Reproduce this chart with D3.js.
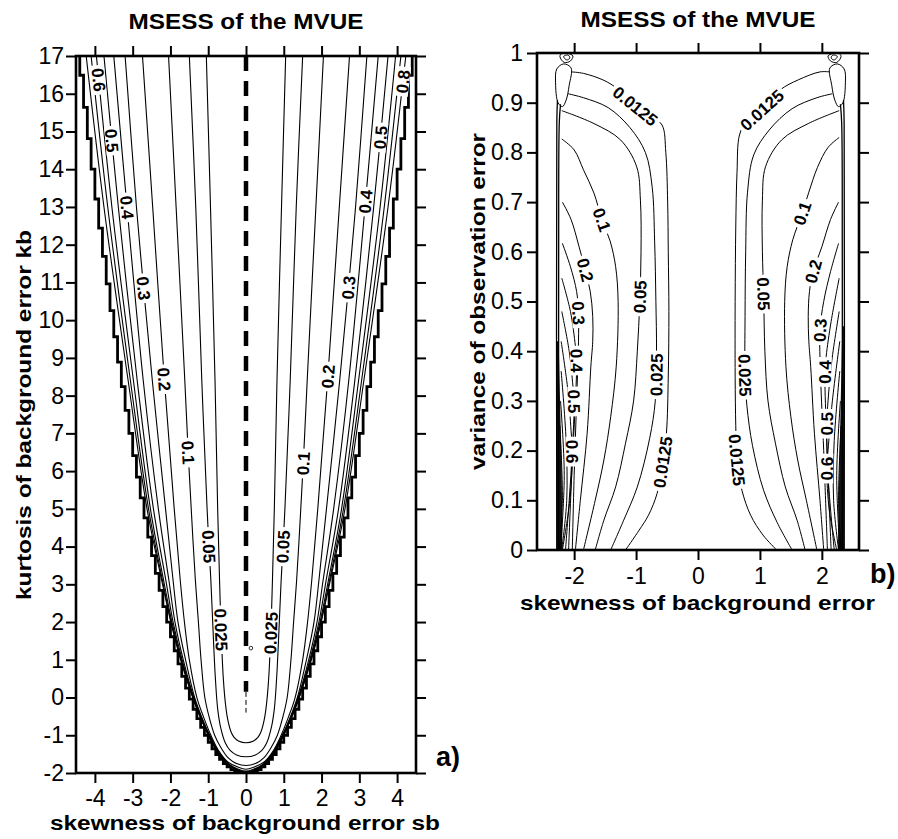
<!DOCTYPE html>
<html><head><meta charset="utf-8">
<script src="https://cdn.jsdelivr.net/npm/d3@7"></script>
<style>
body{margin:0;background:#fff}
svg{display:block}
text{font-family:"Liberation Sans",Arial,Helvetica,sans-serif;fill:#000}
</style>
</head><body>
<svg id="chart" width="898" height="839"></svg>
<script>
// ---------------- DATA ----------------
// Panel a) axis ticks
const aXTicks = [-4,-3,-2,-1,0,1,2,3,4];
const aYTicks = [-2,-1,0,1,2,3,4,5,6,7,8,9,10,11,12,13,14,15,16,17];
// Panel b) axis ticks
const bXTicks = [-2,-1,0,1,2];
const bYTicks = [0,0.1,0.2,0.3,0.4,0.5,0.6,0.7,0.8,0.9,1];
const bYTickLabels = ["0","0.1","0.2","0.3","0.4","0.5","0.6","0.7","0.8","0.9","1"];

// Panel a) feasibility boundary (skewness sb, kurtosis kb)
const aBoundSb = [0,0.1,0.2,0.3,0.4,0.5,0.6,0.7,0.8,0.9,1,1.1,1.2,1.3,1.4,1.5,1.6,1.7,1.8,1.9,2,2.1,2.2,2.3,2.4,2.5,2.6,2.7,2.8,2.9,3,3.1,3.2,3.3,3.4,3.5,3.6,3.7,3.8,3.9,4,4.1,4.2,4.3,4.4];
const aBoundKb = [-2,-1.99,-1.96,-1.91,-1.84,-1.75,-1.64,-1.51,-1.36,-1.19,-1,-0.79,-0.56,-0.31,-0.04,0.25,0.56,0.89,1.24,1.61,2,2.41,2.84,3.29,3.76,4.25,4.76,5.29,5.84,6.41,7,7.61,8.24,8.89,9.56,10.25,10.96,11.69,12.44,13.21,14,14.81,15.64,16.49,17.36];

// Panel a) contour levels, each as [kb, |sb|] half-curve (symmetric about sb = 0)
const aLevels = [0.025,0.05,0.1,0.2,0.3,0.4,0.5,0.6,0.7,0.8];
const a0025 = [[-1.2,0],[-1.15,0.2],[-1.05,0.32],[-0.9,0.4],[-0.6,0.48],[-0.2,0.54],[0.5,0.6],[1.8,0.66],[3.1,0.7],[5,0.75],[8.4,0.82],[13,0.94],[17,1.05]];
const a005  = [[-1.57,0],[-1.52,0.25],[-1.4,0.42],[-1.2,0.55],[-0.8,0.67],[-0.3,0.75],[0.5,0.81],[1.5,0.86],[3.1,0.93],[4,0.98],[5,1.03],[8.4,1.17],[13,1.33],[17,1.5]];
const a01   = [[-1.8,0],[-1.75,0.25],[-1.6,0.47],[-1.3,0.68],[-1,0.83],[-0.5,0.98],[0,1.09],[1,1.19],[2,1.26],[3.1,1.34],[5,1.45],[6.5,1.53],[8.4,1.62],[13,1.85],[17,2.05]];
const a02   = [[-1.9,0],[-1.85,0.2],[-1.7,0.49],[-1.4,0.73],[-1,0.93],[-0.5,1.13],[0,1.3],[1,1.5],[2,1.63],[3.1,1.74],[5,1.9],[8.4,2.16],[13,2.47],[17,2.74]];
const a03   = [[-1.95,0],[-1.9,0.2],[-1.75,0.47],[-1.45,0.72],[-1,0.96],[-0.5,1.18],[0,1.36],[1,1.6],[2,1.8],[3.1,1.93],[5,2.13],[8.4,2.48],[10.85,2.71],[13,2.9],[17,3.2]];
const a04   = [[-1.97,0],[-1.9,0.25],[-1.75,0.49],[-1.45,0.73],[-1,0.97],[-0.5,1.19],[0,1.38],[1,1.66],[2,1.88],[3.1,2.04],[5,2.32],[8.4,2.72],[13,3.15],[17,3.5]];
const a05   = [[-1.98,0],[-1.9,0.27],[-1.75,0.49],[-1.45,0.74],[-1,0.98],[-0.5,1.2],[0,1.39],[1,1.69],[2,1.93],[3.1,2.12],[5,2.45],[8.4,2.88],[13,3.38],[17,3.76]];
const a06   = [[-1.99,0],[-1.9,0.28],[-1.75,0.495],[-1.45,0.745],[-1,0.99],[-0.5,1.21],[0,1.4],[1,1.71],[2,1.96],[3.1,2.18],[5,2.53],[8.4,2.98],[13,3.55],[17,3.96]];
const a07   = [[-1.995,0],[-1.9,0.29],[-1.75,0.497],[-1.45,0.75],[-1,0.995],[-0.5,1.215],[0,1.405],[1,1.72],[2,1.98],[3.1,2.21],[5,2.58],[8.4,3.06],[13,3.66],[17,4.1]];
const a08   = [[-2,0],[-1.9,0.3],[-1.75,0.5],[-1.45,0.755],[-1,1.0],[-0.5,1.22],[0,1.41],[1,1.73],[2,1.99],[3.1,2.23],[5,2.62],[8.4,3.12],[13,3.76],[17,4.23]];
const aCurves = [a0025,a005,a01,a02,a03,a04,a05,a06,a07,a08];
// dashed zero line [sb, kb]
const aZeroThick = [[0,17],[0,0.15]];
const aZeroThin  = [[0,0.15],[0,-0.4]];
const aTinyLoop  = [0.13,1.31];
// contour labels [level, sb, kb]
const aLabels = [[0.6,-3.94,16.36],[0.5,-3.54,14.77],[0.4,-3.14,13.0],[0.3,-2.72,10.85],[0.2,-2.19,8.42],[0.1,-1.53,6.48],[0.05,-1.0,3.99],[0.025,-0.65,1.79],
                 [0.5,3.65,14.83],[0.4,3.25,13.14],[0.3,2.81,10.85],[0.2,2.28,8.5],[0.1,1.57,6.21],[0.05,1.09,4.0],[0.025,0.72,1.7],[0.8,4.3,16.3]];

// Panel b) contours, [sb, variance]
const bLevels = [0.0125,0.025,0.05,0.1,0.2,0.3,0.4,0.5,0.6,0.7,0.8,0.9];
const bL0125 = [[-2.05,0.962],[-1.85,0.959],[-1.52,0.945],[-1.3,0.928],[-1.01,0.893],[-0.75,0.872],[-0.58,0.855],[-0.52,0.8],[-0.49,0.7],[-0.48,0.6],[-0.47,0.48],[-0.48,0.35],[-0.51,0.235],[-0.57,0.175],[-0.66,0.114],[-0.8,0.07],[-0.95,0.04],[-1.17,0]];
const bL025  = [[-2.1,0.918],[-1.85,0.91],[-1.45,0.89],[-1.1,0.85],[-0.85,0.8],[-0.74,0.73],[-0.7,0.62],[-0.68,0.5],[-0.67,0.4],[-0.69,0.3],[-0.78,0.225],[-0.98,0.127],[-1.2,0.06],[-1.41,0]];
const bL05   = [[-2.2,0.884],[-1.68,0.858],[-1.25,0.825],[-0.99,0.771],[-0.93,0.704],[-0.92,0.6],[-0.94,0.5],[-0.98,0.4],[-1.04,0.3],[-1.17,0.215],[-1.33,0.127],[-1.52,0.06],[-1.66,0]];
const bL1    = [[-2.2,0.827],[-2.0,0.805],[-1.85,0.765],[-1.68,0.718],[-1.55,0.664],[-1.42,0.622],[-1.33,0.57],[-1.29,0.5],[-1.32,0.37],[-1.41,0.268],[-1.52,0.181],[-1.66,0.1],[-1.85,0]];
const bL2    = [[-2.19,0.7],[-2.05,0.665],[-1.92,0.61],[-1.82,0.563],[-1.74,0.52],[-1.7,0.47],[-1.7,0.42],[-1.73,0.37],[-1.79,0.235],[-1.9,0.1],[-1.98,0]];
const bL3    = [[-2.19,0.617],[-2.06,0.57],[-1.96,0.52],[-1.93,0.476],[-1.93,0.42],[-1.96,0.3],[-2.0,0.15],[-2.03,0]];
const bL4    = [[-2.2,0.547],[-2.06,0.48],[-1.98,0.41],[-1.96,0.38],[-1.98,0.3],[-2.04,0.15],[-2.09,0]];
const bL5    = [[-2.2,0.48],[-2.08,0.4],[-2.02,0.33],[-2.0,0.298],[-2.03,0.2],[-2.08,0.1],[-2.14,0]];
const bL6    = [[-2.21,0.42],[-2.1,0.32],[-2.05,0.24],[-2.03,0.198],[-2.07,0.1],[-2.19,0]];
const bL7    = [[-2.21,0.36],[-2.13,0.22],[-2.12,0.1],[-2.2,0]];
const bL8    = [[-2.22,0.3],[-2.16,0.15],[-2.22,0]];
const bL9    = [[-2.23,0.25],[-2.19,0.1],[-2.24,0]];
const bR0125 = [[2.13,0.962],[1.97,0.962],[1.62,0.946],[1.33,0.926],[1.03,0.885],[0.78,0.862],[0.67,0.835],[0.63,0.76],[0.61,0.65],[0.6,0.5],[0.6,0.35],[0.61,0.25],[0.63,0.181],[0.71,0.12],[0.85,0.07],[1.05,0.03],[1.27,0]];
const bR025  = [[2.17,0.918],[1.92,0.91],[1.52,0.888],[1.15,0.845],[0.9,0.795],[0.8,0.72],[0.77,0.6],[0.76,0.47],[0.76,0.352],[0.79,0.29],[0.88,0.21],[1.06,0.12],[1.28,0.055],[1.52,0]];
const bR05   = [[2.28,0.884],[1.78,0.858],[1.35,0.825],[1.09,0.771],[1.04,0.704],[1.04,0.6],[1.06,0.516],[1.08,0.4],[1.13,0.3],[1.25,0.215],[1.41,0.127],[1.6,0.06],[1.73,0]];
const bR1    = [[2.28,0.83],[2.1,0.81],[1.93,0.77],[1.79,0.72],[1.68,0.677],[1.53,0.624],[1.44,0.57],[1.4,0.5],[1.42,0.369],[1.5,0.268],[1.61,0.181],[1.75,0.1],[1.92,0]];
const bR2    = [[2.27,0.7],[2.14,0.665],[2.0,0.61],[1.86,0.56],[1.8,0.52],[1.78,0.47],[1.79,0.42],[1.82,0.369],[1.88,0.235],[1.97,0.1],[2.03,0]];
const bR3    = [[2.27,0.617],[2.14,0.56],[2.03,0.5],[1.97,0.443],[1.98,0.35],[2.03,0.2],[2.09,0]];
const bR4    = [[2.28,0.547],[2.15,0.46],[2.07,0.39],[2.05,0.359],[2.07,0.25],[2.11,0.12],[2.15,0]];
const bR5    = [[2.28,0.48],[2.16,0.38],[2.1,0.3],[2.08,0.255],[2.1,0.15],[2.2,0]];
const bR6    = [[2.29,0.42],[2.17,0.3],[2.1,0.2],[2.08,0.164],[2.12,0.08],[2.24,0]];
const bR7    = [[2.29,0.36],[2.2,0.22],[2.19,0.1],[2.27,0]];
const bR8    = [[2.3,0.3],[2.24,0.15],[2.29,0]];
const bR9    = [[2.31,0.25],[2.27,0.1],[2.31,0]];
const bLeftCurves  = [bL0125,bL025,bL05,bL1,bL2,bL3,bL4,bL5,bL6,bL7,bL8,bL9];
const bRightCurves = [bR0125,bR025,bR05,bR1,bR2,bR3,bR4,bR5,bR6,bR7,bR8,bR9];
// edge lines, dark bands and small closed loops near the corners
const bLEdge  = [[-2.22,0.897],[-2.24,0.86],[-2.25,0.6],[-2.25,0]];
const bLEdge2 = [[-2.27,0.905],[-2.28,0.86],[-2.28,0]];
const bREdge  = [[2.3,0.897],[2.32,0.86],[2.33,0.6],[2.33,0]];
const bREdge2 = [[2.35,0.905],[2.36,0.86],[2.36,0]];
const bLBand  = [[-2.285,0],[-2.285,0.42],[-2.25,0.42],[-2.2,0.15],[-2.19,0]];
const bRBand  = [[2.365,0],[2.365,0.45],[2.33,0.45],[2.28,0.15],[2.26,0]];
const bLTear  = [[-2.3,0.94],[-2.28,0.968],[-2.17,0.978],[-2.05,0.97],[-2.08,0.935],[-2.13,0.905],[-2.19,0.892],[-2.26,0.9]];
const bRTear  = [[2.38,0.94],[2.36,0.968],[2.25,0.978],[2.13,0.97],[2.16,0.935],[2.21,0.905],[2.27,0.892],[2.34,0.9]];
const bLLoop1 = [[-2.23,0.993],[-2.16,0.981],[-2.06,0.984],[-2.02,0.994],[-2.1,0.999],[-2.2,0.999]];
const bLLoop2 = [[-2.17,0.993],[-2.12,0.986],[-2.07,0.99],[-2.1,0.996]];
const bRLoop1 = [[2.31,0.993],[2.24,0.981],[2.14,0.984],[2.1,0.994],[2.18,0.999],[2.28,0.999]];
const bRLoop2 = [[2.25,0.993],[2.2,0.986],[2.15,0.99],[2.18,0.996]];
// contour labels [level, sb, variance]
const bLabels = [[0.0125,-1.01,0.893],[0.1,-1.55,0.664],[0.2,-1.82,0.563],[0.3,-1.93,0.476],[0.4,-1.96,0.382],[0.5,-2.0,0.298],[0.6,-2.03,0.198],[0.05,-0.93,0.51],[0.025,-0.68,0.352],[0.0125,-0.6,0.178],
                 [0.0125,1.03,0.885],[0.1,1.68,0.677],[0.2,1.86,0.56],[0.3,1.97,0.443],[0.4,2.05,0.359],[0.5,2.08,0.255],[0.6,2.08,0.164],[0.05,1.06,0.516],[0.025,0.76,0.352],[0.0125,0.63,0.181]];

// ---------------- DRAWING ----------------
const svg = d3.select("#chart");
svg.append("rect").attr("width",898).attr("height",839).attr("fill","#fff");

const xa = d3.scaleLinear().domain([-4.5,4.5]).range([76,416]);
const ya = d3.scaleLinear().domain([-2,17]).range([773,56]);
const xb = d3.scaleLinear().domain([-2.6,2.6]).range([537,859]);
const yb = d3.scaleLinear().domain([0,1]).range([550,53]);

const defs = svg.append("defs");
defs.append("clipPath").attr("id","clipA").append("rect")
  .attr("x",xa(-4.5)).attr("y",ya(17)).attr("width",xa(4.5)-xa(-4.5)).attr("height",ya(-2)-ya(17));
defs.append("clipPath").attr("id","clipB").append("rect")
  .attr("x",xb(-2.6)).attr("y",yb(1)).attr("width",xb(2.6)-xb(-2.6)).attr("height",yb(0)-yb(1));

// ---- Panel a ----
const gA = svg.append("g");
const gAc = gA.append("g").attr("clip-path","url(#clipA)");
const lineA = d3.line().x(d=>xa(d[0])).y(d=>ya(d[1])).curve(d3.curveCatmullRom.alpha(0.5));
const aPaths = [];
aCurves.forEach((c,i)=>{
  const left = c.slice().reverse().map(([k,s])=>[-s,k]);
  const right = c.slice(1).map(([k,s])=>[s,k]);
  const p = gAc.append("path").attr("d",lineA(left.concat(right)))
    .attr("fill","none").attr("stroke","#000").attr("stroke-width",1.1);
  aPaths.push({level:aLevels[i], node:p.node()});
});
// boundary (staircase)
const bLeftPts = aBoundSb.map((s,i)=>[-s,aBoundKb[i]]).reverse();
const bRightPts = aBoundSb.map((s,i)=>[s,aBoundKb[i]]);
const lineLin = (xs,ys,curve)=>d3.line().x(d=>xs(d[0])).y(d=>ys(d[1])).curve(curve);
gAc.append("path").attr("d",lineLin(xa,ya,d3.curveStepBefore)(bLeftPts))
  .attr("fill","none").attr("stroke","#000").attr("stroke-width",2.8);
gAc.append("path").attr("d",lineLin(xa,ya,d3.curveStepAfter)(bRightPts))
  .attr("fill","none").attr("stroke","#000").attr("stroke-width",2.8);
// zero dashed line
gAc.append("path").attr("d",lineLin(xa,ya,d3.curveLinear)(aZeroThick))
  .attr("stroke","#000").attr("stroke-width",4.5).attr("stroke-dasharray","15,10").attr("fill","none");
gAc.append("path").attr("d",lineLin(xa,ya,d3.curveLinear)(aZeroThin))
  .attr("stroke","#000").attr("stroke-width",1).attr("stroke-dasharray","5,3").attr("fill","none");
gAc.append("circle").attr("cx",xa(aTinyLoop[0])).attr("cy",ya(aTinyLoop[1])).attr("r",1.8)
  .attr("fill","none").attr("stroke","#000").attr("stroke-width",0.8);

// ---- Panel b ----
const gB = svg.append("g");
const gBc = gB.append("g").attr("clip-path","url(#clipB)");
const lineB = d3.line().x(d=>xb(d[0])).y(d=>yb(d[1])).curve(d3.curveCatmullRom.alpha(0.5));
const lineBClosed = d3.line().x(d=>xb(d[0])).y(d=>yb(d[1])).curve(d3.curveCatmullRomClosed.alpha(0.5));
[bLBand,bRBand].forEach(b=>{
  gBc.append("path").attr("d",d3.line().x(d=>xb(d[0])).y(d=>yb(d[1]))(b)+"Z").attr("fill","#111").attr("stroke","none");
});
const bPaths = [];
[bLeftCurves,bRightCurves].forEach(set=>{
  set.forEach((c,i)=>{
    const p = gBc.append("path").attr("d",lineB(c)).attr("fill","none").attr("stroke","#000").attr("stroke-width",1);
    bPaths.push({level:bLevels[i], node:p.node()});
  });
});
[bLEdge,bLEdge2,bREdge,bREdge2].forEach(c=>{
  gBc.append("path").attr("d",lineB(c)).attr("fill","none").attr("stroke","#000").attr("stroke-width",1.3);
});
[bLTear,bRTear,bLLoop1,bLLoop2,bRLoop1,bRLoop2].forEach(c=>{
  gBc.append("path").attr("d",lineBClosed(c)).attr("fill","none").attr("stroke","#000").attr("stroke-width",1);
});

// ---- contour labels ----
function fmtLevel(v){ return String(v); }
function placeLabels(g, paths, labels, xs, ys){
  labels.forEach(([lev,dx,dy])=>{
    const px = xs(dx), py = ys(dy);
    let best = null;
    paths.filter(p=>p.level===lev).forEach(p=>{
      const n = p.node, L = n.getTotalLength();
      for(let s=0;s<=L;s+=1){
        const q = n.getPointAtLength(s);
        const d = (q.x-px)*(q.x-px)+(q.y-py)*(q.y-py);
        if(!best || d<best.d) best = {d,s,n,L};
      }
    });
    if(!best) return;
    const c = best.n.getPointAtLength(best.s);
    const a = best.n.getPointAtLength(Math.max(0,best.s-4));
    const b = best.n.getPointAtLength(Math.min(best.L,best.s+4));
    let ang = Math.atan2(b.y-a.y,b.x-a.x)*180/Math.PI;
    if(ang>90) ang-=180;
    if(ang<=-90) ang+=180;
    const lg = g.append("g").attr("transform",`translate(${c.x},${c.y}) rotate(${ang})`);
    const r = lg.append("rect").attr("fill","#fff");
    const t = lg.append("text").text(fmtLevel(lev)).attr("text-anchor","middle").attr("dy","0.36em")
      .style("font-size","17px").attr("font-weight","bold");
    const w = t.node().getComputedTextLength();
    r.attr("x",-w/2-3).attr("y",-6.5).attr("width",w+6).attr("height",13);
  });
}
placeLabels(gA.append("g").attr("clip-path","url(#clipA)"), aPaths, aLabels, xa, ya);
placeLabels(gB.append("g").attr("clip-path","url(#clipB)"), bPaths, bLabels, xb, yb);

// ---- axes ----
function styleAxis(sel){
  sel.select(".domain").remove();
  sel.attr("font-size",null).attr("font-family",null);
  sel.selectAll(".tick line").attr("stroke","#000").attr("stroke-width",2);
  sel.selectAll(".tick text").style("font-size","23px").attr("fill","#000")
    .style("font-family","'Liberation Sans',Arial,sans-serif");
}
function frame(g,xs,ys,xt,yt,yfmt,padY,padX){
  const [x0,x1] = xs.range(), [y0,y1] = ys.range();
  g.append("g").attr("transform",`translate(${x0},0)`)
    .call(d3.axisLeft(ys).tickValues(yt).tickSize(10).tickSizeOuter(0).tickPadding(padY).tickFormat(yfmt)).call(styleAxis);
  g.append("g").attr("transform",`translate(${x1},0)`)
    .call(d3.axisRight(ys).tickValues(yt).tickSize(10).tickSizeOuter(0).tickFormat("")).call(styleAxis);
  g.append("g").attr("transform",`translate(0,${y0})`)
    .call(d3.axisBottom(xs).tickValues(xt).tickSize(10).tickSizeOuter(0).tickPadding(padX).tickFormat(d=>String(d))).call(styleAxis);
  g.append("g").attr("transform",`translate(0,${y1})`)
    .call(d3.axisTop(xs).tickValues(xt).tickSize(10).tickSizeOuter(0).tickFormat("")).call(styleAxis);
  g.append("rect").attr("x",x0).attr("y",y1).attr("width",x1-x0).attr("height",y0-y1)
    .attr("fill","none").attr("stroke","#000").attr("stroke-width",2.6);
}
frame(gA,xa,ya,aXTicks,aYTicks,d=>String(d),2,7);
frame(gB,xb,yb,bXTicks,bYTicks,(d,i)=>bYTickLabels[i],4,8);

// ---- titles ----
function txt(x,y,s,size,len,rot){
  const t = svg.append("text").attr("x",x).attr("y",y).text(s)
    .style("font-size",size+"px").attr("font-weight","bold").attr("text-anchor","middle");
  if(len) t.attr("textLength",len).attr("lengthAdjust","spacingAndGlyphs");
  if(rot) t.attr("transform",`rotate(${rot},${x},${y})`);
  return t;
}
txt(246,29,"MSESS of the MVUE",22,235);
txt(698,27,"MSESS of the MVUE",22,235);
txt(245,830,"skewness of background error sb",20,390);
txt(31,415,"kurtosis of background error kb",21,370,-90);
txt(697.5,610,"skewness of background error",21,355);
txt(485,301.5,"variance of observation error",21,337,-90);
svg.append("text").attr("x",436).attr("y",766).text("a)").style("font-size","27px").attr("font-weight","bold");
svg.append("text").attr("x",870).attr("y",583).text("b)").style("font-size","27px").attr("font-weight","bold");
</script>
</body></html>
